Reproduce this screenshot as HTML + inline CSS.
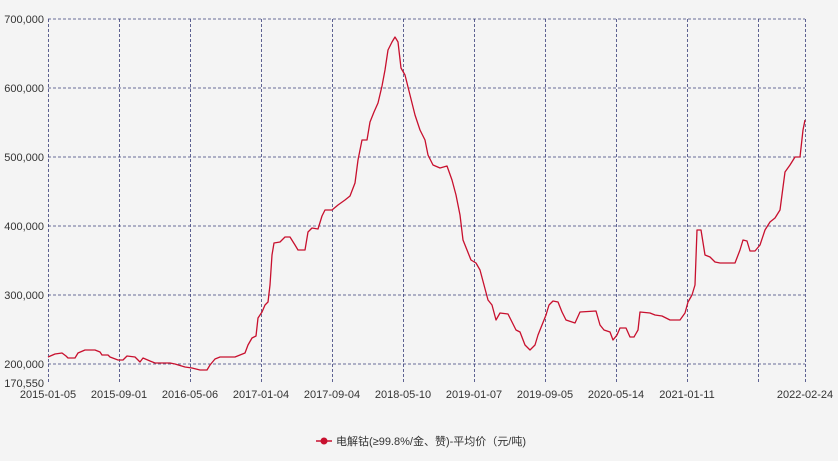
<!DOCTYPE html>
<html><head><meta charset="utf-8"><style>
html,body{margin:0;padding:0;background:#f4f4f4;}
svg{display:block;font-family:"Liberation Sans","Noto Sans CJK SC",sans-serif;}
</style></head><body>
<svg width="838" height="461" viewBox="0 0 838 461">
<rect width="838" height="461" fill="#f4f4f4"/>
<g stroke="#3a3f7a" stroke-width="0.8" stroke-dasharray="3,2" fill="none">
<line x1="48" y1="19" x2="805" y2="19"/>
<line x1="48" y1="88" x2="805" y2="88"/>
<line x1="48" y1="157" x2="805" y2="157"/>
<line x1="48" y1="226" x2="805" y2="226"/>
<line x1="48" y1="295" x2="805" y2="295"/>
<line x1="48" y1="364" x2="805" y2="364"/>
<line x1="48.5" y1="19" x2="48.5" y2="384"/>
<line x1="119.5" y1="19" x2="119.5" y2="384"/>
<line x1="190.5" y1="19" x2="190.5" y2="384"/>
<line x1="261.5" y1="19" x2="261.5" y2="384"/>
<line x1="332.5" y1="19" x2="332.5" y2="384"/>
<line x1="403.5" y1="19" x2="403.5" y2="384"/>
<line x1="474.5" y1="19" x2="474.5" y2="384"/>
<line x1="545.5" y1="19" x2="545.5" y2="384"/>
<line x1="616.5" y1="19" x2="616.5" y2="384"/>
<line x1="687.5" y1="19" x2="687.5" y2="384"/>
<line x1="758.5" y1="19" x2="758.5" y2="384"/>
<line x1="805.5" y1="19" x2="805.5" y2="384"/>
</g>
<g font-size="11" fill="#333" text-anchor="end">
<text x="44" y="23">700,000</text>
<text x="44" y="92">600,000</text>
<text x="44" y="161">500,000</text>
<text x="44" y="230">400,000</text>
<text x="44" y="299">300,000</text>
<text x="44" y="368">200,000</text>
<text x="44" y="387">170,550</text>
</g>
<g font-size="11" fill="#333" text-anchor="middle">
<text x="48" y="398">2015-01-05</text>
<text x="119" y="398">2015-09-01</text>
<text x="190" y="398">2016-05-06</text>
<text x="261" y="398">2017-01-04</text>
<text x="332" y="398">2017-09-04</text>
<text x="403" y="398">2018-05-10</text>
<text x="474" y="398">2019-01-07</text>
<text x="545" y="398">2019-09-05</text>
<text x="616" y="398">2020-05-14</text>
<text x="687" y="398">2021-01-11</text>
<text x="805" y="398">2022-02-24</text>
</g>
<polyline fill="none" stroke="#c8102e" stroke-width="1.3" stroke-linejoin="round" points="48,357 55,354 62,353 66,356 68,358 75,358 78,353 85,350 95,350 100,352 102,355 108,355 110,357 118,360 123,360 127,356 135,357 140,362 143,358 150,361 155,363 170,363 175,364 185,367 192,368 200,370 207,370 210,365 215,359 220,357 235,357 240,355 245,353 248,345 252,338 256,336 258,318 262,312 265,305 268,302 270,285 272,255 274,243 280,242 285,237 290,237 295,245 298,250 305,250 308,232 312,228 318,229 322,216 325,210 332,210 338,205 345,200 350,196 355,183 358,160 362,140 367,140 370,122 374,112 378,103 382,86 385,70 388,50 392,42 395,37 398,42 401,68 405,75 410,95 415,115 420,130 425,140 428,155 433,165 440,168 447,166 452,180 456,195 460,215 463,240 467,250 471,260 476,263 480,270 484,285 488,300 492,305 496,320 500,313 508,314 512,322 516,330 520,332 525,345 530,350 535,345 538,335 542,325 546,315 549,305 553,301 558,302 562,312 566,320 575,323 580,312 596,311 600,325 604,330 610,332 613,340 617,335 620,328 626,328 630,337 634,337 638,330 640,312 650,313 655,315 662,316 670,320 680,320 685,313 688,302 692,295 695,285 697,230 701,230 705,255 710,257 715,262 720,263 735,263 740,250 743,240 747,241 750,251 755,251 760,245 765,230 770,222 775,218 780,210 785,172 790,165 795,157 800,157 803,130 805,120"/>
<line x1="316" y1="441" x2="332" y2="441" stroke="#c8102e" stroke-width="1.5"/>
<circle cx="324" cy="441" r="3.5" fill="#c8102e"/>
<text x="336" y="445" font-size="11" fill="#333">电解钴(≥99.8%/金、赞)-平均价（元/吨)</text>
</svg>
</body></html>
